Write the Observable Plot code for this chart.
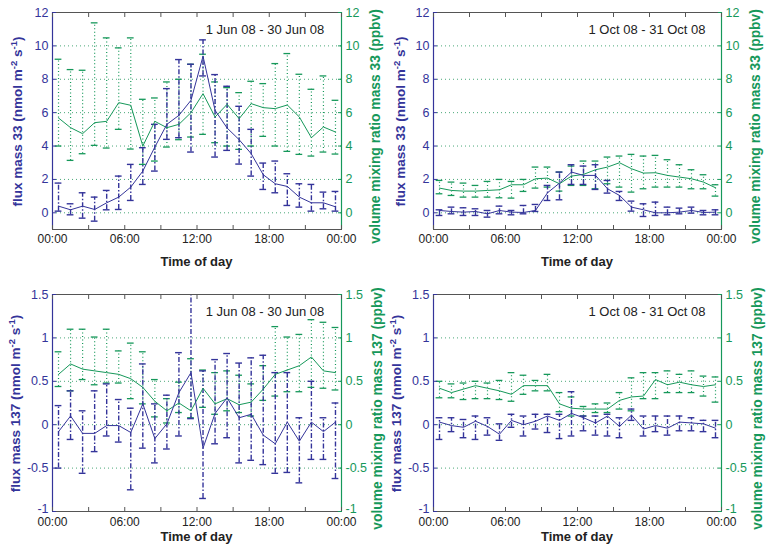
<!DOCTYPE html>
<html>
<head>
<meta charset="utf-8">
<script src="https://cdn.jsdelivr.net/npm/d3@7"></script>
<script src="https://cdn.jsdelivr.net/npm/@observablehq/plot@0.6"></script>
<style>
  body { margin: 0; background: #fff; font-family: "Liberation Sans", Arial, sans-serif; }
  #root { position: relative; width: 769px; height: 550px; overflow: hidden; }
  .panel { position: absolute; }
  .panel svg { overflow: visible; }
</style>
</head>
<body>
<div id="root"></div>
<script>
// ---------- data ----------
const hours = [0.5,1.5,2.5,3.5,4.5,5.5,6.5,7.5,8.5,9.5,10.5,11.5,12.5,13.5,14.5,15.5,16.5,17.5,18.5,19.5,20.5,21.5,22.5,23.5];

const xTickValues = [0, 6, 12, 18, 24];
const xTickLabels = ["00:00", "06:00", "12:00", "18:00", "00:00"];
const xMinorTicks = [0, 3, 6, 9, 12, 15, 18, 21, 24];

const yTicks33 = [0, 2, 4, 6, 8, 10, 12];
const yTickLabels33 = ["0", "2", "4", "6", "8", "10", "12"];
const yGrid33 = [0, 2, 4, 6, 8, 10];
const yTicks137 = [-1, -0.5, 0, 0.5, 1, 1.5];
const yTickLabels137 = ["-1", "-0.5", "0", "0.5", "1", "1.5"];
const yGrid137 = [-0.5, 0, 0.5, 1];

// June, mass 33
const jun33Flux   = [0.4,0.18,0.4,0.2,0.6,0.94,1.54,2.5,3.94,5.3,5.84,6.74,9.38,6.14,5.08,4.38,3.54,2.28,1.74,1.58,0.94,0.6,0.6,0.36];
const jun33FluxHi = [1.78,0.54,1.2,0.94,1.34,2.2,2.9,3.9,5.3,7.44,9.18,8.9,10.36,8.28,7.58,6.38,5.0,2.98,3.1,2.34,1.74,1.7,1.24,1.28];
const jun33FluxLo = [0.1,-0.12,-0.32,-0.5,0.18,0.2,0.74,1.7,2.5,4.4,4.5,3.64,8.2,3.34,3.74,2.92,2.2,1.4,1.2,0.44,0.34,0.1,0.24,0.1];
const jun33Vmr    = [5.68,5.1,4.74,5.4,5.48,6.6,6.44,4.0,5.48,5.1,5.3,6.0,7.14,5.74,6.5,5.64,6.54,6.3,6.24,6.46,5.74,4.5,5.14,4.84];
const jun33VmrHi  = [9.2,8.58,8.54,11.38,10.48,9.88,10.48,6.8,6.88,7.84,8.0,8.9,9.5,7.84,7.5,7.2,7.88,7.74,8.94,9.54,8.3,7.4,8.2,6.74];
const jun33VmrLo  = [4.0,3.14,3.54,4.04,3.88,5.0,3.82,2.9,3.1,3.94,4.38,4.54,4.7,4.2,4.0,3.8,4.0,4.58,4.0,3.68,3.5,3.4,3.64,3.52];

// October, mass 33
const oct33Flux   = [0.14,0.08,0.04,0.08,-0.06,0.14,0.04,0.02,0.14,1.2,1.78,2.44,2.24,2.24,1.44,1.04,0.34,0.18,0.0,0.0,0.04,0.14,0.02,0.04];
const oct33FluxHi = [0.18,0.34,0.3,0.24,0.14,0.4,0.14,0.44,0.5,1.64,2.44,2.88,2.8,2.88,1.94,1.28,0.7,0.54,0.64,0.34,0.28,0.34,0.14,0.18];
const oct33FluxLo = [-0.16,-0.06,-0.16,-0.16,-0.26,-0.06,-0.12,-0.06,0.08,0.74,0.78,1.7,1.7,1.4,1.18,0.74,0.1,-0.22,-0.16,-0.12,-0.06,-0.02,-0.12,-0.12];
const oct33Vmr    = [1.48,1.34,1.3,1.3,1.34,1.38,1.68,1.68,2.04,2.08,1.74,2.2,2.3,2.58,2.74,3.0,2.64,2.38,2.4,2.24,2.14,2.04,1.84,1.5];
const oct33VmrHi  = [1.94,1.84,1.78,1.64,1.88,2.0,1.88,2.0,2.74,2.74,2.44,2.8,3.1,3.1,3.34,3.4,3.5,3.4,3.44,3.18,2.88,2.58,2.28,1.68];
const oct33VmrLo  = [1.14,1.04,0.94,0.94,0.94,0.9,0.88,1.28,1.48,1.54,1.3,1.64,1.64,1.44,1.74,1.54,1.24,1.44,1.54,1.54,1.54,1.44,1.44,1.0];

// June, mass 137
const jun137Flux   = [-0.08,0.1,-0.1,-0.1,-0.01,-0.01,-0.09,0.24,-0.16,0.01,0.37,0.6,-0.27,0.13,0.31,0.08,0.12,-0.12,-0.22,0.03,-0.19,0.03,-0.08,0.03];
const jun137FluxHi = [0.22,0.39,0.16,0.39,0.47,0.29,0.19,0.7,0.24,0.34,0.83,1.6,0.62,0.75,0.82,0.71,0.77,0.8,0.6,0.6,0.08,0.5,0.08,0.25];
const jun137FluxLo = [-0.5,-0.17,-0.56,-0.31,-0.13,-0.2,-0.75,-0.27,-0.44,-0.28,-0.13,0.07,-0.85,-0.22,-0.15,-0.44,-0.41,-0.46,-0.56,-0.55,-0.67,-0.4,-0.4,-0.62];
const jun137Vmr    = [0.58,0.7,0.64,0.62,0.6,0.58,0.53,0.43,0.27,0.16,0.25,0.16,0.42,0.24,0.3,0.23,0.26,0.41,0.58,0.63,0.68,0.78,0.62,0.6];
const jun137VmrHi  = [0.84,1.1,1.1,1.01,1.1,0.85,0.94,0.84,0.52,0.3,0.49,0.76,0.63,0.6,0.62,0.57,0.47,0.68,1.13,1.01,1.04,1.21,1.18,1.12];
const jun137VmrLo  = [0.44,0.39,0.52,0.46,0.48,0.48,0.3,0.24,0.09,0.02,0.14,0.08,0.2,0.12,0.16,0.14,0.1,0.28,0.33,0.38,0.38,0.43,0.42,0.4];

// October, mass 137
const oct137Flux   = [0.03,-0.01,-0.03,0.04,-0.02,-0.11,0.05,0.0,0.04,0.1,0.05,0.13,0.08,0.02,0.1,-0.02,0.11,-0.05,-0.01,-0.04,0.03,0.02,0.01,-0.04];
const oct137FluxHi = [0.08,0.08,0.06,0.1,0.08,0.01,0.12,0.1,0.12,0.12,0.12,0.38,0.1,0.1,0.12,0.08,0.18,0.1,0.1,0.1,0.1,0.08,0.05,0.05];
const oct137FluxLo = [-0.17,-0.08,-0.15,-0.17,-0.12,-0.18,-0.03,-0.13,-0.05,-0.09,-0.16,-0.13,-0.07,-0.12,-0.13,-0.15,0.05,-0.13,-0.08,-0.12,-0.07,-0.07,-0.08,-0.15];
const oct137Vmr    = [0.42,0.37,0.41,0.45,0.42,0.39,0.35,0.45,0.45,0.45,0.24,0.19,0.18,0.18,0.18,0.28,0.32,0.33,0.52,0.46,0.49,0.46,0.44,0.46];
const oct137VmrHi  = [0.5,0.47,0.48,0.5,0.48,0.51,0.6,0.57,0.51,0.58,0.37,0.32,0.21,0.24,0.25,0.37,0.54,0.6,0.6,0.62,0.58,0.62,0.56,0.55];
const oct137VmrLo  = [0.31,0.31,0.29,0.3,0.3,0.29,0.27,0.35,0.39,0.39,0.15,0.1,0.1,0.14,0.14,0.18,0.16,0.3,0.3,0.37,0.37,0.37,0.33,0.26];

// ---------- styling ----------
const xDomain = [0, 24];
const blue = "#34349a";
const green = "#16985a";
const gridColor = "#4aa878";
const frameColor = "#555555";
const font = "Liberation Sans, Arial, sans-serif";

function drawPanel(cfg) {
  const rows = hours.map((h, i) => ({
    h, f: cfg.flux[i], fl: cfg.fluxLo[i], fh: cfg.fluxHi[i],
    v: cfg.vmr[i], vl: cfg.vmrLo[i], vh: cfg.vmrHi[i]
  }));
  const cap = 0.28;
  const fmtY = d => cfg.yTickLabels[cfg.yTicks.indexOf(d)];
  const yBottom = cfg.yDomain[0];
  const mainTicks = cfg.yTicks.filter(d => d !== yBottom);
  const lowTicks = cfg.yTicks.filter(d => d === yBottom);
  const yLabelAxes = (anchor, color) => [
    Plot.axisY({anchor, ticks: mainTicks, tickFormat: fmtY, tickSize: 0, tickPadding: 4,
                fontSize: 12.5, fill: color, label: null}),
    Plot.axisY({anchor, ticks: lowTicks, tickFormat: fmtY, tickSize: 0, tickPadding: 4, dy: -3,
                fontSize: 12.5, fill: color, label: null}),
    Plot.axisY({anchor, ticks: cfg.yTicks, tickFormat: () => "", tickSize: -4, stroke: color, label: null})
  ];
  const plot = Plot.plot({
    width: cfg.width, height: cfg.height,
    marginLeft: cfg.ml, marginRight: cfg.mr, marginTop: cfg.mt, marginBottom: cfg.mb,
    x: {domain: xDomain},
    y: {domain: cfg.yDomain},
    style: {fontFamily: font, background: "transparent", overflow: "visible"},
    marks: [
      Plot.ruleY(cfg.grid, {stroke: gridColor, strokeDasharray: "1,3", strokeWidth: 1}),
      // green (mixing ratio) error bars
      Plot.ruleX(rows, {x: "h", y1: "vl", y2: "vh", stroke: green, strokeDasharray: "1,2.5", strokeWidth: 1.2, clip: true}),
      Plot.ruleY(rows, {y: "vh", x1: d => d.h - cap, x2: d => d.h + cap, stroke: green, strokeWidth: 1.3, clip: true}),
      Plot.ruleY(rows, {y: "vl", x1: d => d.h - cap, x2: d => d.h + cap, stroke: green, strokeWidth: 1.3, clip: true}),
      // blue (flux) error bars
      Plot.ruleX(rows, {x: "h", y1: "fl", y2: "fh", stroke: blue, strokeDasharray: "5,2,1.5,2", strokeWidth: 1.4, clip: true}),
      Plot.ruleY(rows, {y: "fh", x1: d => d.h - cap, x2: d => d.h + cap, stroke: blue, strokeWidth: 1.4, clip: true}),
      Plot.ruleY(rows, {y: "fl", x1: d => d.h - cap, x2: d => d.h + cap, stroke: blue, strokeWidth: 1.4, clip: true}),
      // mean lines
      Plot.line(rows, {x: "h", y: "v", stroke: green, strokeWidth: 1}),
      Plot.line(rows, {x: "h", y: "f", stroke: blue, strokeWidth: 1}),
      // frame
      Plot.frame({stroke: frameColor, strokeWidth: 1}),
      Plot.ruleX([xDomain[0]], {stroke: blue, strokeWidth: 1.2}),
      Plot.ruleX([xDomain[1]], {stroke: green, strokeWidth: 1.2}),
      // x axis
      Plot.axisX({anchor: "bottom", ticks: xTickValues, tickFormat: d => xTickLabels[xTickValues.indexOf(d)],
                  tickSize: 0, tickPadding: cfg.xPad, fontSize: 12, fill: "#222", label: null}),
      Plot.axisX({anchor: "bottom", ticks: xMinorTicks, tickFormat: () => "", tickSize: -4, stroke: frameColor, label: null}),
      Plot.axisX({anchor: "top", ticks: xMinorTicks, tickFormat: () => "", tickSize: -4, stroke: frameColor, label: null}),
      // y axes: flux (left, blue) and mixing ratio (right, green)
      ...yLabelAxes("left", blue),
      ...yLabelAxes("right", green)
    ]
  });

  const svg = d3.select(plot);
  const cy = (cfg.mt + cfg.height - cfg.mb) / 2;
  const cx = (cfg.ml + cfg.width - cfg.mr) / 2;

  // left axis label with superscripts
  const tl = svg.append("text")
    .attr("transform", `translate(${cfg.leftLabelX},${cy + 1}) rotate(-90)`)
    .attr("text-anchor", "middle").attr("font-family", font)
    .attr("font-weight", "bold").attr("font-size", 13.5).attr("fill", blue);
  tl.append("tspan").text(`flux mass ${cfg.mass} (nmol m`);
  tl.append("tspan").attr("dy", -5).attr("font-size", 9.5).text("-2");
  tl.append("tspan").attr("dy", 5).text(" s");
  tl.append("tspan").attr("dy", -5).attr("font-size", 9.5).text("-1");
  tl.append("tspan").attr("dy", 5).text(")");

  // right axis label
  svg.append("text")
    .attr("transform", `translate(${cfg.rightLabelX},${cy + 6}) rotate(-90)`)
    .attr("text-anchor", "middle").attr("font-family", font)
    .attr("font-weight", "bold").attr("font-size", 13.8).attr("fill", green)
    .text(`volume mixing ratio mass ${cfg.mass} (ppbv)`);

  // x label
  svg.append("text")
    .attr("x", cx).attr("y", 266)
    .attr("text-anchor", "middle").attr("font-family", font)
    .attr("font-weight", "bold").attr("font-size", 13).attr("fill", "#222")
    .text("Time of day");

  // period annotation
  svg.append("text")
    .attr("x", cfg.titleX).attr("y", cfg.titleY)
    .attr("text-anchor", "middle").attr("font-family", font)
    .attr("font-size", 13).attr("fill", "#222")
    .text(cfg.title);

  const div = document.createElement("div");
  div.className = "panel";
  div.style.left = cfg.left + "px";
  div.style.top = cfg.top + "px";
  div.appendChild(plot);
  document.getElementById("root").appendChild(div);
}

drawPanel({left: 0, top: 0, width: 385, height: 275, ml: 52, mr: 44, mt: 12, mb: 46, xPad: 5,
  yDomain: [-1, 12], yTicks: yTicks33, yTickLabels: yTickLabels33, grid: yGrid33, mass: 33,
  flux: jun33Flux, fluxLo: jun33FluxLo, fluxHi: jun33FluxHi, vmr: jun33Vmr, vmrLo: jun33VmrLo, vmrHi: jun33VmrHi,
  title: "1 Jun 08 - 30 Jun 08", titleX: 265, titleY: 34, leftLabelX: 22, rightLabelX: 380});

drawPanel({left: 385, top: 0, width: 384, height: 275, ml: 48, mr: 48, mt: 12, mb: 46, xPad: 5,
  yDomain: [-1, 12], yTicks: yTicks33, yTickLabels: yTickLabels33, grid: yGrid33, mass: 33,
  flux: oct33Flux, fluxLo: oct33FluxLo, fluxHi: oct33FluxHi, vmr: oct33Vmr, vmrLo: oct33VmrLo, vmrHi: oct33VmrHi,
  title: "1 Oct 08 - 31 Oct 08", titleX: 262, titleY: 34, leftLabelX: 20, rightLabelX: 375});

drawPanel({left: 0, top: 275, width: 385, height: 275, ml: 52, mr: 44, mt: 19, mb: 39, xPad: 6,
  yDomain: [-1, 1.5], yTicks: yTicks137, yTickLabels: yTickLabels137, grid: yGrid137, mass: 137,
  flux: jun137Flux, fluxLo: jun137FluxLo, fluxHi: jun137FluxHi, vmr: jun137Vmr, vmrLo: jun137VmrLo, vmrHi: jun137VmrHi,
  title: "1 Jun 08 - 30 Jun 08", titleX: 265, titleY: 41, leftLabelX: 20, rightLabelX: 382});

drawPanel({left: 385, top: 275, width: 384, height: 275, ml: 48, mr: 48, mt: 19, mb: 39, xPad: 6,
  yDomain: [-1, 1.5], yTicks: yTicks137, yTickLabels: yTickLabels137, grid: yGrid137, mass: 137,
  flux: oct137Flux, fluxLo: oct137FluxLo, fluxHi: oct137FluxHi, vmr: oct137Vmr, vmrLo: oct137VmrLo, vmrHi: oct137VmrHi,
  title: "1 Oct 08 - 31 Oct 08", titleX: 262, titleY: 41, leftLabelX: 16, rightLabelX: 377});
</script>
</body>
</html>
